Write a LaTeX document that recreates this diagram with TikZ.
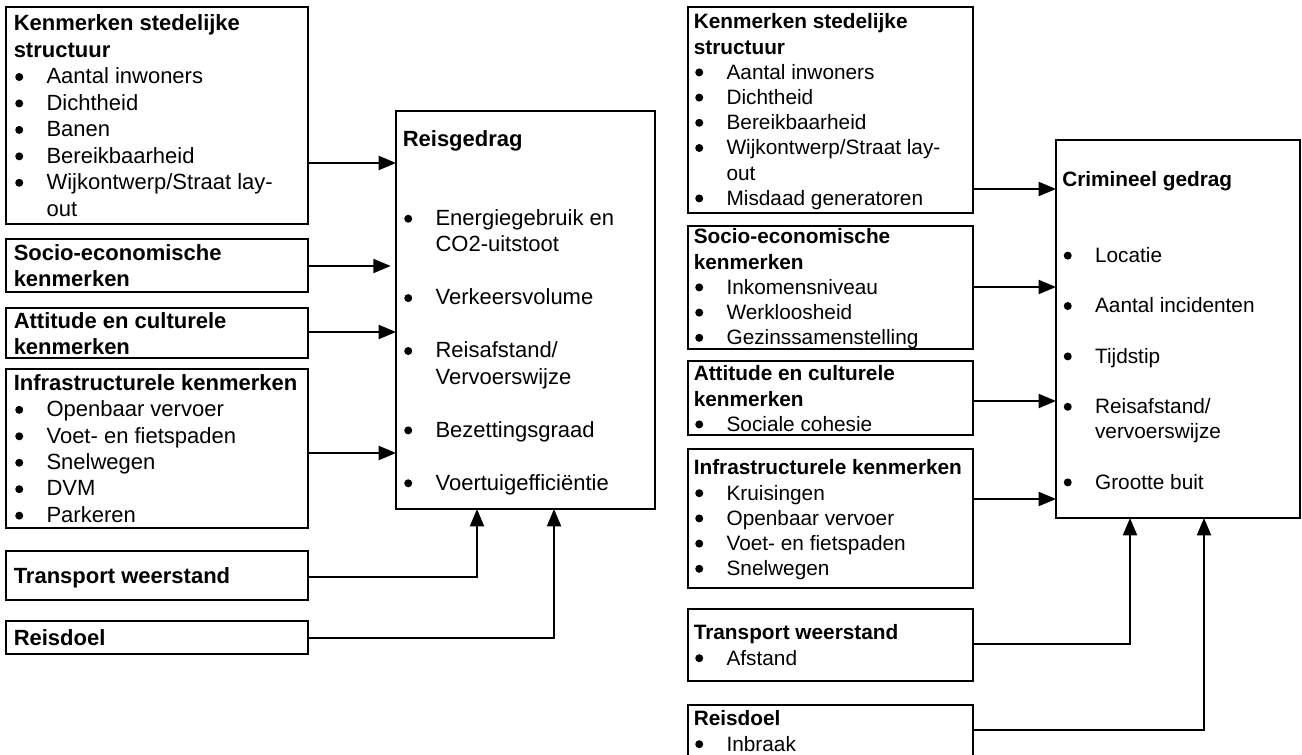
\documentclass[tikz,border=0pt]{standalone}
\usepackage{fontspec}
\setmainfont{Liberation Sans}
\usetikzlibrary{arrows.meta,calc}
\newcommand\pxbox[5]{\node[box, minimum width={(#4-#2)*0.75pt}, minimum height={(#5-#3)*0.75pt}] (#1) at (#2,#3) {};}
\newcommand\bdot{\hspace*{1.1pt}\tikz[baseline=0pt]\fill (0pt,5.1pt) circle[radius=3pt];}
\newcommand\bl[1]{\strut\makebox[24.6pt][l]{\bdot}#1}
\newcommand\ind[1]{\strut\hspace*{24.6pt}#1}
\newcommand\hd[1]{\strut\textbf{#1}}
\begin{document}
\begin{tikzpicture}[x=0.75pt,y=-0.75pt,
  box/.style={draw, line width=1.5pt, inner sep=0pt, outer sep=0pt, anchor=north west},
  txtL/.style={anchor=north west, inner sep=0pt, align=left, font=\fontsize{16.5}{19.84}\selectfont},
  txtR/.style={anchor=north west, inner sep=0pt, align=left, font=\fontsize{15.6}{18.9}\selectfont},
  arr/.style={line width=1.5pt, -{Triangle[length=13pt,width=10.5pt]}}]
\useasboundingbox[fill=white] (0,0) rectangle (1302,755);

% ---------------- left diagram ----------------
\pxbox{L1}{6}{7}{308}{224}
\pxbox{L2}{6}{239}{308}{292}
\pxbox{L3}{6}{308}{308}{358}
\pxbox{L4}{6}{369}{308}{528}
\pxbox{L5}{6}{551}{308}{600}
\pxbox{L6}{6}{621}{308}{654}
\pxbox{R}{396}{111}{655}{509}

\node[txtL] (L1t) at (13.5,12.1) {\hd{Kenmerken stedelijke}\\\hd{structuur}\\\bl{Aantal inwoners}\\\bl{Dichtheid}\\\bl{Banen}\\\bl{Bereikbaarheid}\\\bl{Wijkontwerp/Straat lay-}\\\ind{out}};
\node[txtL] (L2t) at (13.5,241.4) {\hd{Socio-economische}\\\hd{kenmerken}};
\node[txtL] (L3t) at (13.5,309.4) {\hd{Attitude en culturele}\\\hd{kenmerken}};
\node[txtL] (L4t) at (13.5,371.4) {\hd{Infrastructurele kenmerken}\\\bl{Openbaar vervoer}\\\bl{Voet- en fietspaden}\\\bl{Snelwegen}\\\bl{DVM}\\\bl{Parkeren}};
\node[txtL] (L5t) at (13.5,564.4) {\hd{Transport weerstand}};
\node[txtL] (L6t) at (13.5,626.4) {\hd{Reisdoel}};
\node[txtL] (Rt) at (402.5,127.4) {\hd{Reisgedrag}\\\strut\\\strut\\\bl{Energiegebruik en}\\\ind{CO2-uitstoot}\\\strut\\\bl{Verkeersvolume}\\\strut\\\bl{Reisafstand/}\\\ind{Vervoerswijze}\\\strut\\\bl{Bezettingsgraad}\\\strut\\\bl{Voertuigefficiëntie}};

\coordinate (ya) at (0,163);
\coordinate (yb) at (0,266);
\coordinate (yc) at (0,332);
\coordinate (yd) at (0,453);
\coordinate (ye) at (0,577);
\coordinate (yf) at (0,638);
\coordinate (xe) at (477,0);
\coordinate (xf) at (554,0);
\draw[arr] (L1.east |- ya) -- (R.west |- ya);
\draw[arr] (L2.east |- yb) -- ([xshift=-4pt]R.west |- yb);
\draw[arr] (L3.east |- yc) -- (R.west |- yc);
\draw[arr] (L4.east |- yd) -- (R.west |- yd);
\draw[arr] (L5.east |- ye) -| (R.south -| xe);
\draw[arr] (L6.east |- yf) -| (R.south -| xf);

% ---------------- right diagram ----------------
\pxbox{R1}{688}{7}{973}{213}
\pxbox{R2}{688}{226}{973}{349}
\pxbox{R3}{688}{361}{973}{435}
\pxbox{R4}{688}{449}{973}{588}
\pxbox{R5}{688}{609}{973}{681}
\pxbox{R6}{688}{705}{973}{762}
\pxbox{C}{1056}{140}{1300}{518}

\node[txtR] (R1t) at (693.5,10.9) {\hd{Kenmerken stedelijke}\\\hd{structuur}\\\bl{Aantal inwoners}\\\bl{Dichtheid}\\\bl{Bereikbaarheid}\\\bl{Wijkontwerp/Straat lay-}\\\ind{out}\\\bl{Misdaad generatoren}};
\node[txtR] (R2t) at (693.5,225.9) {\hd{Socio-economische}\\\hd{kenmerken}\\\bl{Inkomensniveau}\\\bl{Werkloosheid}\\\bl{Gezinssamenstelling}};
\node[txtR] (R3t) at (693.5,362.9) {\hd{Attitude en culturele}\\\hd{kenmerken}\\\bl{Sociale cohesie}};
\node[txtR] (R4t) at (693.5,456.9) {\hd{Infrastructurele kenmerken}\\\bl{Kruisingen}\\\bl{Openbaar vervoer}\\\bl{Voet- en fietspaden}\\\bl{Snelwegen}};
\node[txtR] (R5t) at (693.5,621.9) {\hd{Transport weerstand}\\\bl{Afstand}};
\node[txtR] (R6t) at (693.5,707.9) {\hd{Reisdoel}\\\bl{Inbraak}};
\node[txtR] (Ct) at (1062,168.9) {\hd{Crimineel gedrag}\\\strut\\\strut\\\bl{Locatie}\\\strut\\\bl{Aantal incidenten}\\\strut\\\bl{Tijdstip}\\\strut\\\bl{Reisafstand/}\\\ind{vervoerswijze}\\\strut\\\bl{Grootte buit}};

\coordinate (ra) at (0,189);
\coordinate (rb) at (0,287);
\coordinate (rc) at (0,401);
\coordinate (rd) at (0,499);
\coordinate (re) at (0,644);
\coordinate (rf) at (0,730);
\coordinate (xre) at (1130,0);
\coordinate (xrf) at (1204,0);
\draw[arr] (R1.east |- ra) -- (C.west |- ra);
\draw[arr] (R2.east |- rb) -- (C.west |- rb);
\draw[arr] (R3.east |- rc) -- (C.west |- rc);
\draw[arr] (R4.east |- rd) -- (C.west |- rd);
\draw[arr] (R5.east |- re) -| (C.south -| xre);
\draw[arr] (R6.east |- rf) -| (C.south -| xrf);
\end{tikzpicture}
\end{document}
